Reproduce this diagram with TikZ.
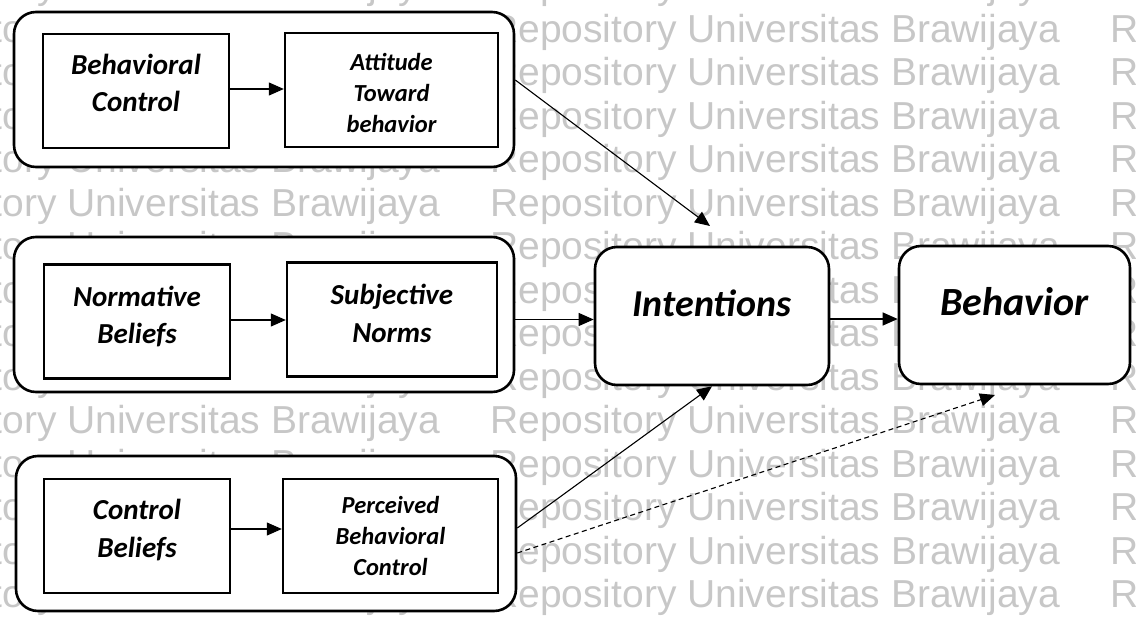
\documentclass[tikz,border=0pt]{standalone}
\usepackage{fontspec}
\setmainfont{Carlito}
\newfontfamily\wmfont{Liberation Sans}
\usetikzlibrary{arrows.meta,calc}

\begin{document}
\begin{tikzpicture}[x=1pt,y=-1pt,
  grp/.style={draw, line width=2.6pt, rounded corners=22pt, fill=white,
    minimum width=500pt, minimum height=155pt, inner sep=0pt},
  cell/.style={draw, line width=2.4pt, fill=white, minimum height=114pt,
    inner sep=0pt},
  celltext/.style={align=center, inner sep=0pt,
    font=\fontsize{29}{37.5}\selectfont\bfseries\itshape},
  celltextsmall/.style={celltext, font=\fontsize{24.5}{31}\selectfont\bfseries\itshape},
  hub/.style={draw, line width=2.6pt, rounded corners=22pt, fill=white,
    minimum height=138pt, inner sep=0pt,
    font=\fontsize{38}{46}\selectfont\bfseries\itshape,
    text height=24pt, text depth=24pt},
  link/.style={line width=1.1pt, -{Triangle[length=15pt,width=13pt]}},
  wm/.style={text=black!22, font=\fontsize{39}{39}\selectfont\wmfont,
    anchor=base west, inner sep=0pt}]

\useasboundingbox (0,0) rectangle (1136,624);

% faint repository stamp behind the diagram
\begin{scope}
  \clip (0,0) rectangle (1136,624);
  \foreach \r in {0,...,14}{
    \foreach \c in {-1,0,1}{
      \node[wm] (wm-\r-\c) at ({490+620*\c},{-1.5+43.5*\r})
        {Repository Universitas Brawijaya};
    }
  }
\end{scope}

% three grouped stages
\node[grp] (g1) at (264,89.5) {};
\node[grp] (g2) at (264,314.5) {};
\node[grp] (g3) at (266,533.5) {};

% boxes inside the groups
\node[cell, minimum width=186pt] (a1) at (136,91) {};
\node[cell, minimum width=213pt] (b1) at (391.5,90) {};
\node[cell, minimum width=186pt] (a2) at (137,321.5) {};
\node[cell, minimum width=210pt] (b2) at (392,319.5) {};
\node[cell, minimum width=186pt] (a3) at (137,536) {};
\node[cell, minimum width=215pt] (b3) at (390.5,536) {};

% their captions
\node[celltext] (a1t) at ($(a1)+(0,-8)$) {Behavioral\\Control};
\node[celltextsmall] (b1t) at ($(b1)+(0,3)$) {Attitude\\Toward\\behavior};
\node[celltext] (a2t) at ($(a2)+(0,-5)$) {Normative\\Beliefs};
\node[celltext] (b2t) at ($(b2)+(0,-6)$) {Subjective\\Norms};
\node[celltext] (a3t) at ($(a3)+(0,-6)$) {Control\\Beliefs};
\node[celltextsmall] (b3t) at (b3) {Perceived\\Behavioral\\Control};

% outcome boxes
\node[hub, minimum width=234pt] (int) at (712,316) {Intentions};
\node[hub, minimum width=231pt, font=\fontsize{40}{48}\selectfont\bfseries\itshape] (beh) at (1014.5,315) {Behavior};

% arrow tips that stop short of a box
\coordinate (t1) at (710,226);
\coordinate (t4) at (995,395);

% links inside the groups
\draw[link] ([yshift=2pt]a1.east) -- ([yshift=2pt]a1.east -| b1.west);
\draw[link] ([yshift=1.5pt]a2.east) -- ([yshift=1.5pt]a2.east -| b2.west);
\draw[link] ([yshift=7pt]a3.east) -- ([yshift=7pt]a3.east -| b3.west);

% links to intentions and behaviour
\draw[link] ([yshift=9.5pt]g1.east) -- (t1);
\draw[link] ([yshift=-5pt]g2.east) -- ([yshift=-5pt]g2.east -| int.west);
\draw[link] ([yshift=5.5pt]g3.east) -- (int.south);
\draw[link] ([yshift=-3pt]int.east) -- ([yshift=-3pt]int.east -| beh.west);
\draw[link, dash pattern=on 5pt off 3.5pt] ([yshift=-19.5pt]g3.east) -- (t4);
\end{tikzpicture}
\end{document}
